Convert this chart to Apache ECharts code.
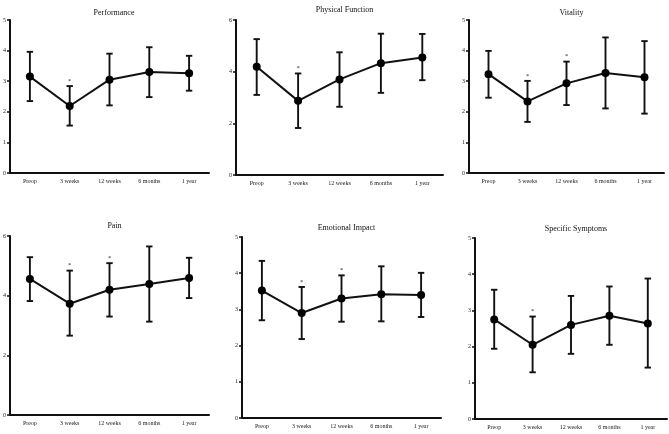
<!DOCTYPE html>
<html><head><meta charset="utf-8">
<script src="https://cdn.jsdelivr.net/npm/echarts@6/dist/echarts.min.js"></script>
<style>html,body{margin:0;padding:0;background:#fff}#c{width:669px;height:434px}</style>
</head><body><div id="c"></div>
<script>
const categories = ['Preop', '3 weeks', '12 weeks', '6 months', '1 year'];
const titles = ['Performance', 'Physical Function', 'Vitality', 'Pain', 'Emotional Impact', 'Specific Symptoms'];

const performanceMean = [3.15, 2.19, 3.05, 3.30, 3.26];
const performanceUpper = [3.96, 2.84, 3.90, 4.11, 3.83];
const performanceLower = [2.35, 1.55, 2.21, 2.48, 2.69];
const performanceSig = [0, 1, 0, 0, 0];

const physicalMean = [4.19, 2.87, 3.70, 4.33, 4.55];
const physicalUpper = [5.26, 3.93, 4.75, 5.47, 5.46];
const physicalLower = [3.10, 1.82, 2.64, 3.18, 3.67];
const physicalSig = [0, 1, 0, 0, 0];

const vitalityMean = [3.23, 2.34, 2.93, 3.27, 3.13];
const vitalityUpper = [3.99, 3.01, 3.64, 4.43, 4.31];
const vitalityLower = [2.46, 1.67, 2.22, 2.11, 1.94];
const vitalitySig = [0, 1, 1, 0, 0];

const painMean = [4.56, 3.73, 4.20, 4.39, 4.59];
const painUpper = [5.29, 4.84, 5.09, 5.65, 5.27];
const painLower = [3.82, 2.66, 3.30, 3.13, 3.92];
const painSig = [0, 1, 1, 0, 0];

const emotionalMean = [3.52, 2.90, 3.30, 3.42, 3.40];
const emotionalUpper = [4.34, 3.62, 3.94, 4.19, 4.01];
const emotionalLower = [2.70, 2.18, 2.66, 2.67, 2.79];
const emotionalSig = [0, 1, 1, 0, 0];

const symptomsMean = [2.75, 2.05, 2.60, 2.85, 2.64];
const symptomsUpper = [3.57, 2.83, 3.40, 3.66, 3.88];
const symptomsLower = [1.94, 1.29, 1.80, 2.05, 1.42];
const symptomsSig = [0, 1, 0, 0, 0];

const yMax = [5, 6, 5, 6, 5, 5];
const yInterval = [1, 2, 1, 2, 1, 1];

const panels = [
  [performanceMean, performanceUpper, performanceLower, performanceSig],
  [physicalMean, physicalUpper, physicalLower, physicalSig],
  [vitalityMean, vitalityUpper, vitalityLower, vitalitySig],
  [painMean, painUpper, painLower, painSig],
  [emotionalMean, emotionalUpper, emotionalLower, emotionalSig],
  [symptomsMean, symptomsUpper, symptomsLower, symptomsSig]
];

const grids = [
  {left: 9, top: 20, width: 200, height: 153},
  {left: 236, top: 20, width: 207, height: 155},
  {left: 469, top: 20, width: 195, height: 153},
  {left: 10, top: 236, width: 199, height: 179},
  {left: 242, top: 237, width: 199, height: 181},
  {left: 475, top: 238, width: 192, height: 181}
];
const titleTops = [4, 1, 4, 217, 219, 220];

const FONT = '"Liberation Serif", "DejaVu Serif", serif';

const option = {
  animation: false,
  backgroundColor: '#fff',
  title: titles.map((t, i) => ({
    text: t,
    left: grids[i].left + grids[i].width / 2,
    top: titleTops[i],
    textAlign: 'center',
    textStyle: {fontFamily: FONT, fontSize: 8, fontWeight: 'normal', color: '#111'}
  })),
  grid: grids.map(g => Object.assign({containLabel: false}, g)),
  xAxis: grids.map((g, i) => ({
    type: 'category', gridIndex: i, data: categories, boundaryGap: true,
    axisLine: {lineStyle: {color: '#111', width: 2}},
    axisTick: {alignWithLabel: true, length: 3, lineStyle: {color: '#111', width: 1.5}},
    axisLabel: {fontFamily: FONT, fontSize: 6, color: '#222', margin: 5, interval: 0},
    splitLine: {show: false}
  })),
  yAxis: grids.map((g, i) => ({
    type: 'value', gridIndex: i, min: 0, max: yMax[i], interval: yInterval[i],
    axisLine: {show: true, lineStyle: {color: '#111', width: 2}},
    axisTick: {show: true, length: 3, lineStyle: {color: '#111', width: 1.5}},
    axisLabel: {fontFamily: FONT, fontSize: 6, color: '#222', margin: 4},
    splitLine: {show: false}
  })),
  series: []
};

panels.forEach((p, i) => {
  const [mean, upper, lower, sig] = p;
  option.series.push({
    type: 'custom', xAxisIndex: i, yAxisIndex: i, z: 2,
    data: categories.map((c, k) => [k, lower[k], upper[k], sig[k]]),
    renderItem: function (params, api) {
      const x = api.value(0);
      const lo = api.coord([x, api.value(1)]);
      const hi = api.coord([x, api.value(2)]);
      const w = 3.2;
      const st = {stroke: '#111', lineWidth: 1.9};
      const children = [
        {type: 'line', shape: {x1: lo[0], y1: lo[1], x2: hi[0], y2: hi[1]}, style: st},
        {type: 'line', shape: {x1: lo[0] - w, y1: lo[1], x2: lo[0] + w, y2: lo[1]}, style: st},
        {type: 'line', shape: {x1: hi[0] - w, y1: hi[1], x2: hi[0] + w, y2: hi[1]}, style: st}
      ];
      if (api.value(3)) {
        children.push({type: 'text', x: hi[0], y: hi[1] - 1.5,
          style: {text: '*', fontSize: 6.5, fontFamily: FONT, fill: '#222', align: 'center', verticalAlign: 'bottom'}});
      }
      return {type: 'group', children: children};
    }
  });
  option.series.push({
    type: 'line', xAxisIndex: i, yAxisIndex: i, z: 3,
    data: mean, symbol: 'circle', symbolSize: 8,
    itemStyle: {color: '#000'},
    lineStyle: {color: '#111', width: 2}
  });
});

const chart = echarts.init(document.getElementById('c'), null, {renderer: 'canvas'});
chart.setOption(option);
</script>
</body></html>
